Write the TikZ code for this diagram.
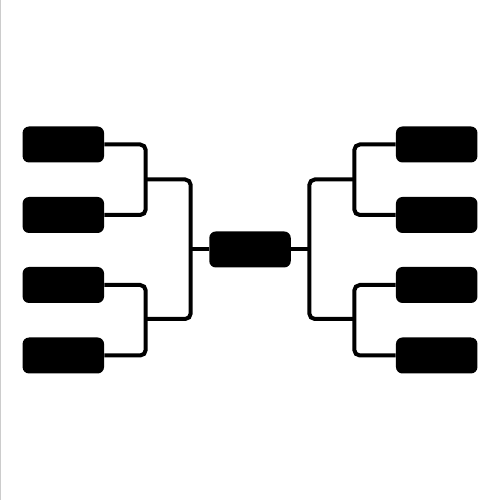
\documentclass[tikz,border=0pt]{standalone}
\usepackage{tikz}

\begin{document}
\begin{tikzpicture}[
    team/.style={draw=none, fill=black, rounded corners=0.13cm, minimum width=1.63cm, minimum height=0.72cm, inner sep=0pt},
    wire/.style={line width=0.08cm, rounded corners=0.11cm}]
        \useasboundingbox (0,0) rectangle (10,10);
        \draw[gray!40, line width=0.6pt] (0.01,0) -- (0.01,10);

        % left half
        \node[team] (l1) at (1.266,7.11) {};
        \node[team] (l2) at (1.266,5.70) {};
        \node[team] (l3) at (1.266,4.30) {};
        \node[team] (l4) at (1.266,2.89) {};
        % right half
        \node[team] (r1) at (8.734,7.11) {};
        \node[team] (r2) at (8.734,5.70) {};
        \node[team] (r3) at (8.734,4.30) {};
        \node[team] (r4) at (8.734,2.89) {};
        % final
        \node[team] (f) at (5,5.01) {};

        \coordinate (la) at (2.914,6.41);
        \coordinate (lb) at (2.914,3.62);
        \coordinate (lc) at (3.814,5.01);
        \coordinate (ra) at (7.086,6.41);
        \coordinate (rb) at (7.086,3.62);
        \coordinate (rc) at (6.186,5.01);

        \draw[wire] (l1.east) -| (la) |- (l2.east);
        \draw[wire] (l3.east) -| (lb) |- (l4.east);
        \draw[wire] (la) -| (lc) |- (lb);
        \draw[wire] (lc) -- (f.west);

        \draw[wire] (r1.west) -| (ra) |- (r2.west);
        \draw[wire] (r3.west) -| (rb) |- (r4.west);
        \draw[wire] (ra) -| (rc) |- (rb);
        \draw[wire] (rc) -- (f.east);
    \end{tikzpicture}
\end{document}
